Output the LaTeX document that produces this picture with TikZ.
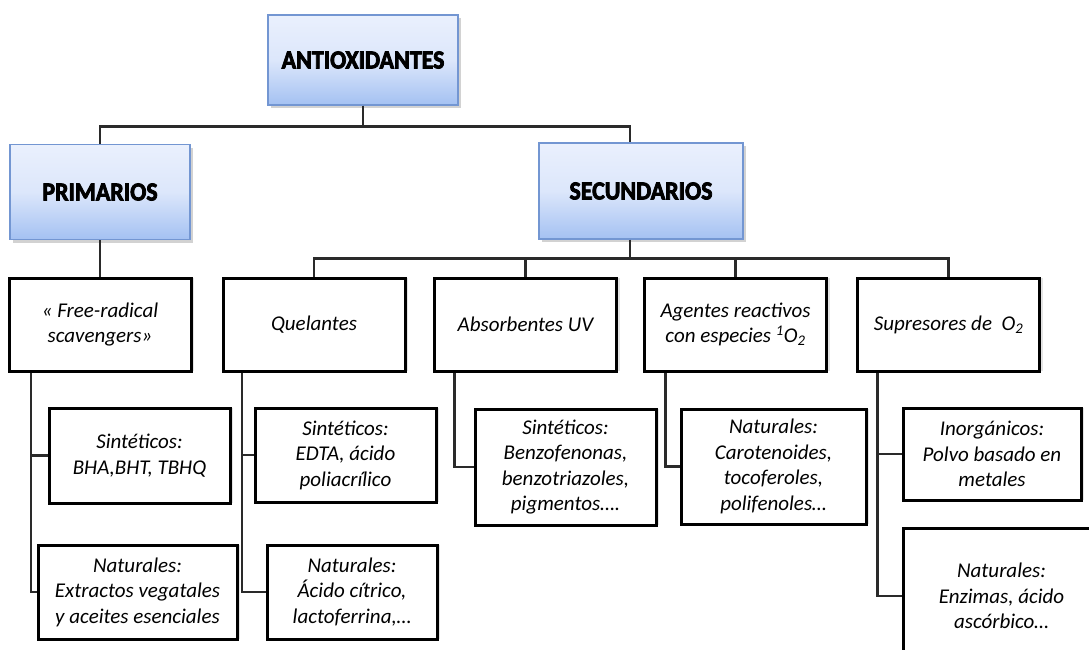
\documentclass[tikz,border=0pt]{standalone}
\usepackage{fontspec}
\setmainfont{Carlito}
\newfontfamily\headfont{Carlito}[BoldFeatures={FakeBold=3,FakeStretch=0.92}]
\usetikzlibrary{shadows}
\definecolor{boxtop}{HTML}{EAF0FD}
\definecolor{boxbot}{HTML}{A4C1F2}
\definecolor{boxline}{HTML}{7396D2}
\definecolor{wirecol}{HTML}{2A2A2A}

\begin{document}
\begin{tikzpicture}[x=1pt,y=-1pt,
  head/.style={draw=boxline,line width=1.3pt,top color=boxtop,bottom color=boxbot,
    middle color=boxtop!80!boxbot,inner sep=0pt,
    font=\headfont\bfseries\fontsize{26}{28}\selectfont,
    drop shadow={shadow xshift=3pt,shadow yshift=-3pt,fill=gray!70,opacity=.5}},
  item/.style={draw=black,line width=3pt,fill=white,align=center,inner sep=0pt,
    font=\itshape\fontsize{21}{25.5}\selectfont,
    drop shadow={shadow xshift=3pt,shadow yshift=0pt,fill=gray!35,opacity=.6}},
  level/.style={item,minimum width=182,minimum height=93},
  wire/.style={draw=wirecol,line width=2.5pt}]
\useasboundingbox (0,0) rectangle (1089,650);
\clip (0,0) rectangle (1089,650);

% top of the tree
\node[head,minimum width=190,minimum height=90] (anti) at (363,60) {ANTIOXIDANTES};
\node[head,minimum width=180,minimum height=95] (prim) at (100,192) {PRIMARIOS};
\node[head,minimum width=204,minimum height=96] (secu) at (641,191) {SECUNDARIOS};

% second level
\node[level] (free) at (100,324.5) {« Free-radical\\scavengers»};
\node[level] (quel) at (314,324.5) {Quelantes};
\node[level] (absor) at (525.5,324.5) {Absorbentes UV};
\node[level] (agent) at (735.5,324.5) {Agentes reactivos\\con especies \textsuperscript{1}O\textsubscript{2}};
\node[level] (supre) at (948.5,324.5) {Supresores de\ \ O\textsubscript{2}};

% leaves
\node[item,minimum width=181,minimum height=95] (freeS) at (139.5,455.5) {Sintéticos:\\BHA,BHT, TBHQ};
\node[item,minimum width=199,minimum height=94] (freeN) at (137.5,592) {Naturales:\\Extractos vegatales\\y aceites esenciales};
\node[item,minimum width=181,minimum height=94] (quelS) at (345.5,455) {Sintéticos:\\EDTA, ácido\\poliacrílico};
\node[item,minimum width=170,minimum height=94] (quelN) at (352,592) {Naturales:\\Ácido cítrico,\\lactoferrina,…};
\node[item,minimum width=181,minimum height=116] (absorS) at (565.5,467) {Sintéticos:\\Benzofenonas,\\benzotriazoles,\\pigmentos….};
\node[item,minimum width=185,minimum height=115] (agentN) at (773.5,466.5) {Naturales:\\Carotenoides,\\tocoferoles,\\polifenoles…};
\node[item,minimum width=178,minimum height=92] (supreI) at (992,454) {Inorgánicos:\\Polvo basado en\\metales};
\node[item,minimum width=197,minimum height=136] (supreN) at (1001.5,596) {Naturales:\\Enzimas, ácido\\ascórbico…};

% connectors
\draw[wire] (anti.south) -- ++(0,21) -| (prim.north);
\draw[wire] (anti.south) -- ++(0,21) -| ([xshift=-11pt]secu.north);
\draw[wire] (prim.south) -- (free.north);
\draw[wire] ([xshift=-11pt]secu.south) -- ++(0,19) coordinate (bus);
\foreach \n in {quel,absor,agent,supre}
  \draw[wire] (bus) -| (\n.north);
\foreach \p/\c/\s in {free/freeS/69,free/freeN/69,quel/quelS/72,quel/quelN/72,
    absor/absorS/71,agent/agentN/70,supre/supreI/71,supre/supreN/71}
  \draw[wire] ([xshift=-\s pt]\p.south) |- (\c.west);
\end{tikzpicture}
\end{document}
